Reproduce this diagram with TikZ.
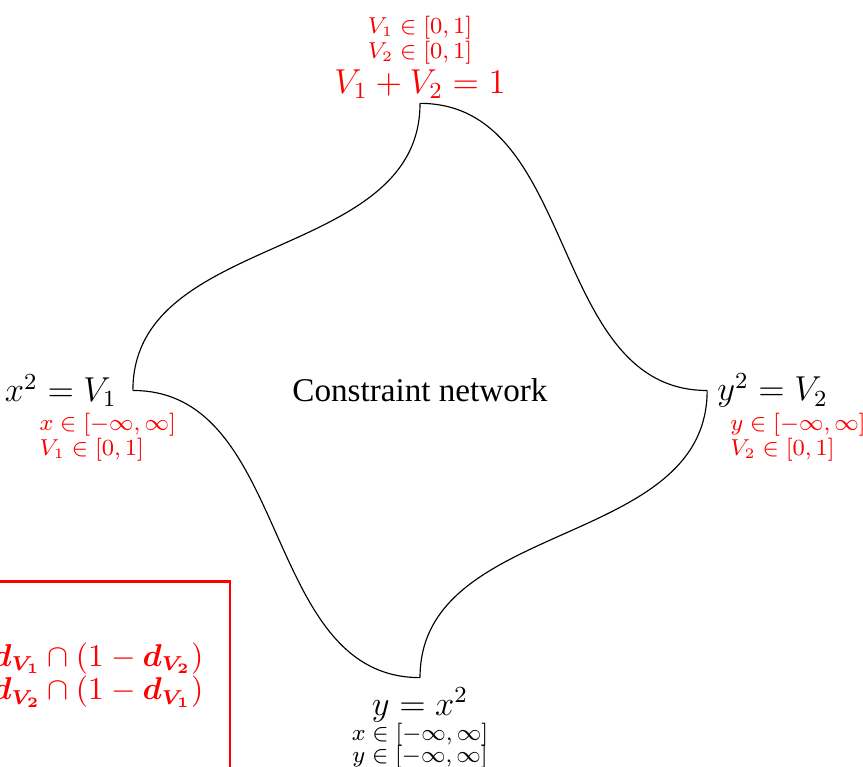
\documentclass[tikz,border=0pt]{standalone}
\usepackage{amsmath,amssymb,bm}
\usepackage[no-math]{fontspec}
\setmainfont{Liberation Serif}
\usetikzlibrary{positioning}
\begin{document}
\begin{tikzpicture}
  [every node/.style={align=center},
   small/.style={font=\fontsize{7.6}{8.7}\selectfont},
   eqn/.style={font=\fontsize{11.5}{13}\selectfont},
   dom/.style={red,small,align=left,inner sep=1pt}]
  \useasboundingbox (-5.12,-4.585) rectangle (5.40,4.76);
  \clip (-5.12,-4.585) rectangle (5.40,4.76);

  \coordinate (top) at (0,3.5);
  \coordinate (lft) at (-3.5,0);
  \coordinate (rgt) at (3.5,0);
  \coordinate (bot) at (0,-3.5);

  \draw (top) to[out=-90,in=90] (lft);
  \draw (top) to[out=0,in=180] (rgt);
  \draw (lft) to[out=0,in=180] (bot);
  \draw (rgt) to[out=-90,in=90] (bot);

  \node[font=\fontsize{11.5}{13}\selectfont] (net) at (0,0) {Constraint network};

  \node[above=-2pt of top, red, small] (cons)
    {$V_1 \in [0,1]$\\ $V_2 \in [0,1]$\\[1pt]
     {\fontsize{11.5}{13}\selectfont $V_1 + V_2 = 1$}};
  \node[left=2pt of lft, eqn] (eqx) {$x^2 = V_1$};
  \node[right=0pt of rgt, eqn] (eqy) {$y^2 = V_2$};
  \node[below=0pt of bot, small] (eqb)
    {{\fontsize{11.5}{13}\selectfont $y = x^2$}\\ $x \in [-\infty,\infty]$\\[-1pt]
     $y \in [-\infty,\infty]$};

  \node[dom, anchor=north west] (domx) at (-4.68,-0.23)
    {$x \in [-\infty,\infty]$\\ $V_1 \in [0,1]$};
  \node[dom, anchor=north west] (domy) at (3.74,-0.23)
    {$y \in [-\infty,\infty]$\\ $V_2 \in [0,1]$};

  % rule box, cut by the page edge
  \draw[red, line width=1pt] (-6,-6) rectangle (-2.317,-2.33);
  \node[red, anchor=east, align=right, font=\fontsize{10.6}{11.5}\selectfont] (rule) at (-2.517,-3.467)
    {$\bm{d_{V_1}} \cap (1-\bm{d_{V_2}})$\\ $\bm{d_{V_2}} \cap (1-\bm{d_{V_1}})$};
\end{tikzpicture}
\end{document}
